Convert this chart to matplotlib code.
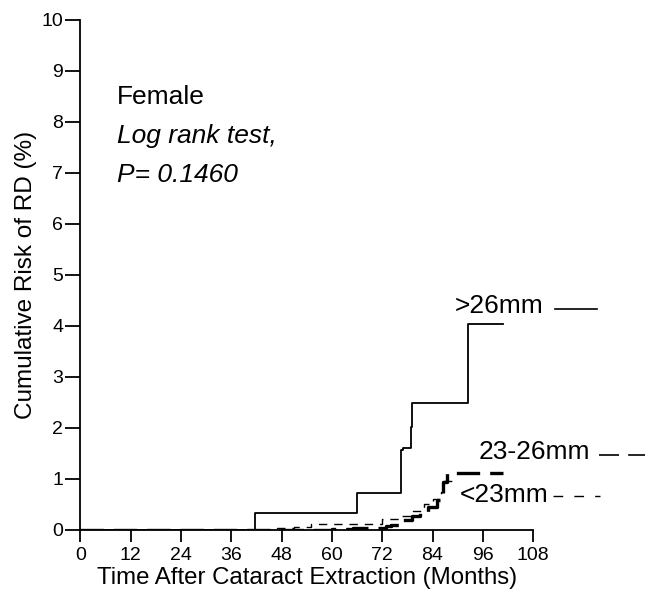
import matplotlib
matplotlib.use("Agg")
import matplotlib.pyplot as plt

plt.rcParams['font.family'] = ['Liberation Sans', 'DejaVu Sans']

# >26mm (solid)
t_gt26 = [0, 41.6, 66, 76.5, 77, 78.9, 79.2, 92.4, 100.8]
r_gt26 = [0, 0.33, 0.72, 1.57, 1.60, 2.01, 2.49, 4.04, 4.04]

# 23-26mm (thick dashed)
t_mid = [0, 60, 65, 73, 74, 77, 79, 81, 83, 85, 86.4, 87.5, 100.8]
r_mid = [0, 0.02, 0.04, 0.08, 0.10, 0.20, 0.27, 0.35, 0.45, 0.58, 0.95, 1.12, 1.12]

# <23mm (thin dashed)
t_lt23 = [0, 47, 51, 55, 72, 76, 79, 82, 84, 86, 86.5, 90]
r_lt23 = [0, 0.03, 0.06, 0.11, 0.22, 0.28, 0.38, 0.50, 0.60, 0.75, 0.97, 0.97]

x_ticks = [0, 12, 24, 36, 48, 60, 72, 84, 96, 108]
y_ticks = [0, 1, 2, 3, 4, 5, 6, 7, 8, 9, 10]

fig = plt.figure(figsize=(6.56, 6.0), dpi=100)
ax = fig.add_axes([0.1227, 0.1167, 0.69, 0.85])

ax.step(t_gt26, r_gt26, where='post', color='black', lw=1.3)
ax.step(t_mid, r_mid, where='post', color='black', lw=2.4, dashes=(7, 3))
ax.step(t_lt23, r_lt23, where='post', color='black', lw=1.0, dashes=(6, 5))

ax.set_xlim(0, 108)
ax.set_ylim(0, 10)
ax.set_xticks(x_ticks)
ax.set_yticks(y_ticks)
ax.spines['top'].set_visible(False)
ax.spines['right'].set_visible(False)
for s in ('left', 'bottom'):
    ax.spines[s].set_linewidth(1.3)
ax.tick_params(axis='both', direction='out', width=1.3, labelsize=14)
ax.tick_params(axis='x', length=8.5, pad=4)
ax.tick_params(axis='y', length=10.5, pad=2)
ax.set_xlabel('Time After Cataract Extraction (Months)', fontsize=17.3, labelpad=2)
ax.set_ylabel('Cumulative Risk of RD (%)', fontsize=17.5, labelpad=3)

ax.text(8.6, 8.48, 'Female', fontsize=19, va='center')
ax.text(8.6, 7.72, 'Log rank test,', fontsize=19, style='italic', va='center')
ax.text(8.6, 6.97, 'P= 0.1460', fontsize=19, style='italic', va='center')

# curve labels
ax.text(89.3, 4.39, '>26mm', fontsize=19, va='center')
ax.plot([113.3, 123.3], [4.33, 4.33], color='black', lw=1.2, clip_on=False)
ax.text(95.0, 1.52, '23-26mm', fontsize=19, va='center')
ax.plot([123.6, 134.6], [1.48, 1.48], color='black', lw=1.2, dashes=(12, 5.5), clip_on=False)
ax.text(90.4, 0.69, '<23mm', fontsize=19, va='center')
ax.plot([112.7, 124.0], [0.66, 0.66], color='black', lw=1.0, dashes=(7, 8), clip_on=False)

fig.savefig('out.png', dpi=100)
